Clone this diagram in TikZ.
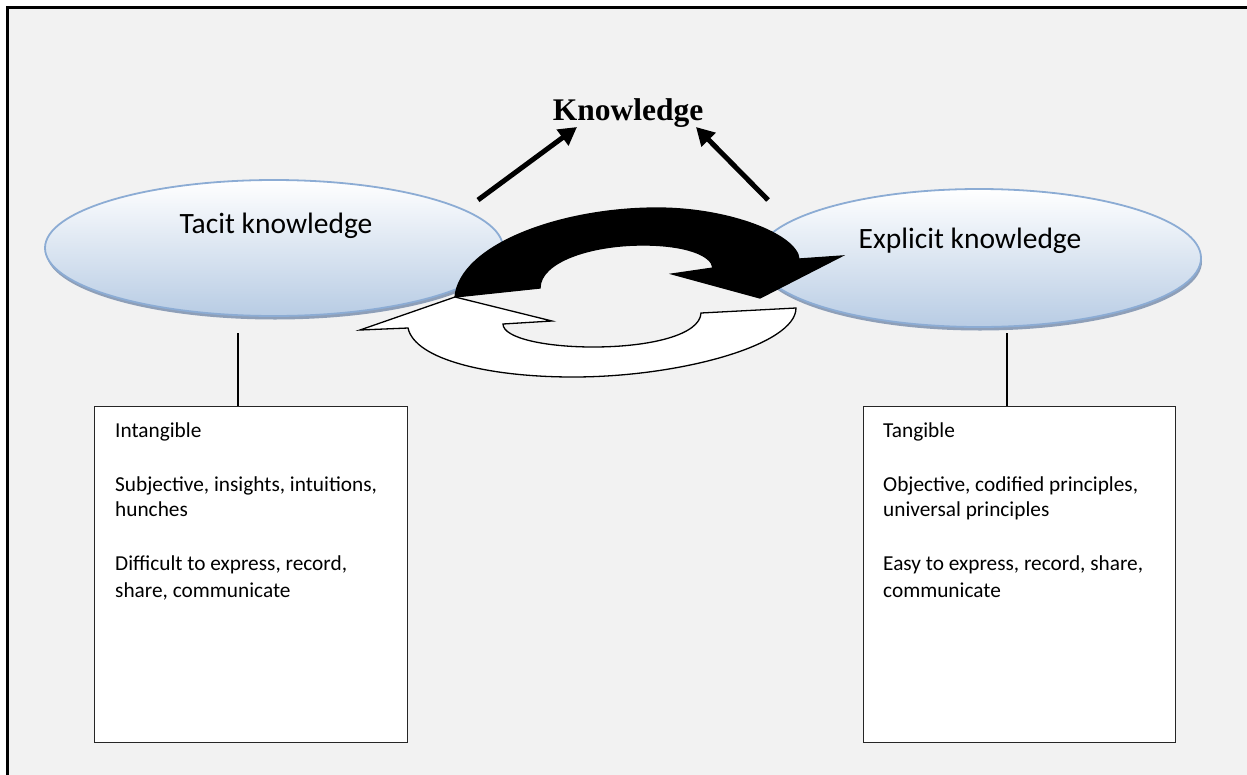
\documentclass[tikz,border=0pt]{standalone}
\usepackage{fontspec}
\setmainfont{Carlito}
\newfontfamily\kfont{Liberation Serif}
\usetikzlibrary{shapes.geometric,shadows,arrows.meta}
\definecolor{bgc}{RGB}{242,242,242}
\definecolor{ellborder}{RGB}{140,172,212}
\definecolor{ellbottom}{RGB}{184,204,228}
\definecolor{shadowc}{RGB}{125,145,175}
\begin{document}
\begin{tikzpicture}[x=1pt,y=-1pt,
  ell/.style={ellipse, draw=ellborder, line width=1.8pt, top color=white, bottom color=ellbottom,
    inner sep=0pt, drop shadow={shadow xshift=1pt, shadow yshift=-3.5pt, fill=shadowc, opacity=0.85}},
  elltext/.style={font=\fontsize{29.5}{35}\selectfont, anchor=base, inner sep=0pt},
  boxnode/.style={draw=black!85, line width=1.4pt, fill=white, anchor=north west,
    minimum width=313pt, minimum height=336pt, inner sep=0pt},
  boxtext/.style={font=\fontsize{21.3}{26}\selectfont, anchor=base west, inner sep=0pt},
  stem/.style={draw=black, line width=1.4pt},
  karrow/.style={draw=black, line width=5pt, -{Triangle[length=18pt,width=19pt]}},
  cyc/.style={draw=black, line width=1.3pt, line join=miter}
]
\useasboundingbox (0,0) rectangle (1247,774);
\clip (0,0) rectangle (1247,774);
% background and frame
\fill[white] (0,0) rectangle (1247,774);
\filldraw[fill=bgc, draw=black, line width=2.2pt] (7.5,7.5) rectangle (1260,790);

% ellipses
\node[ell, minimum width=458pt, minimum height=136pt] (tacit) at (274,248) {};
\node[ell, minimum width=444pt, minimum height=138pt] (explicit) at (979,258) {};
\node[elltext] (tacittext) at (276,233) {Tacit knowledge};
\node[elltext] (explicittext) at (970,248) {Explicit knowledge};

% Knowledge title and arrows
\node[font=\kfont\bfseries\fontsize{31.5}{36}\selectfont, anchor=base, inner sep=0pt] (know) at (628,120) {Knowledge};
\coordinate (ltail) at (478,200);
\coordinate (lhead) at (577,127);
\coordinate (rtail) at (768,200);
\coordinate (rhead) at (696,127);
\draw[karrow] (ltail) -- (lhead);
\draw[karrow] (rtail) -- (rhead);

% black circular arrow (tacit -> explicit)
\filldraw[cyc, fill=black] (455,297) -- (540,288)
  .. controls (540,262) and (590,245) .. (643,245)
  .. controls (685,245) and (712,255) .. (713,268)
  -- (672,274) -- (760,298) -- (842,256) -- (799,259)
  .. controls (797,235) and (730,208) .. (657,208)
  .. controls (560,208) and (460,245) .. (455,297)
  -- cycle;

% white circular arrow (explicit -> tacit)
\filldraw[cyc, fill=white] (796,308) -- (701,313)
  .. controls (700,335) and (650,347) .. (593,347)
  .. controls (545,347) and (503,338) .. (503,324)
  -- (552,321) -- (455,297) -- (360,330) -- (408,328)
  .. controls (415,360) and (490,377) .. (573,377)
  .. controls (680,377) and (796,345) .. (796,308)
  -- cycle;

% boxes
\node[boxnode] (lbox) at (94,406) {};
\node[boxnode, minimum width=312pt] (rbox) at (863,406) {};
\coordinate (lstem) at (238,333);
\coordinate (rstem) at (1007,333);
\draw[stem] (lstem) -- (lstem |- lbox.north);
\draw[stem] (rstem) -- (rstem |- rbox.north);

\node[boxtext] (l1) at (115,437) {Intangible};
\node[boxtext] (l2) at (115,491) {Subjective, insights, intuitions,};
\node[boxtext] (l3) at (115,516) {hunches};
\node[boxtext] (l4) at (115,570) {Difficult to express, record,};
\node[boxtext] (l5) at (115,597) {share, communicate};

\node[boxtext] (r1) at (883,437) {Tangible};
\node[boxtext] (r2) at (883,491) {Objective, codified principles,};
\node[boxtext] (r3) at (883,516) {universal principles};
\node[boxtext] (r4) at (883,570) {Easy to express, record, share,};
\node[boxtext] (r5) at (883,597) {communicate};
\end{tikzpicture}
\end{document}
